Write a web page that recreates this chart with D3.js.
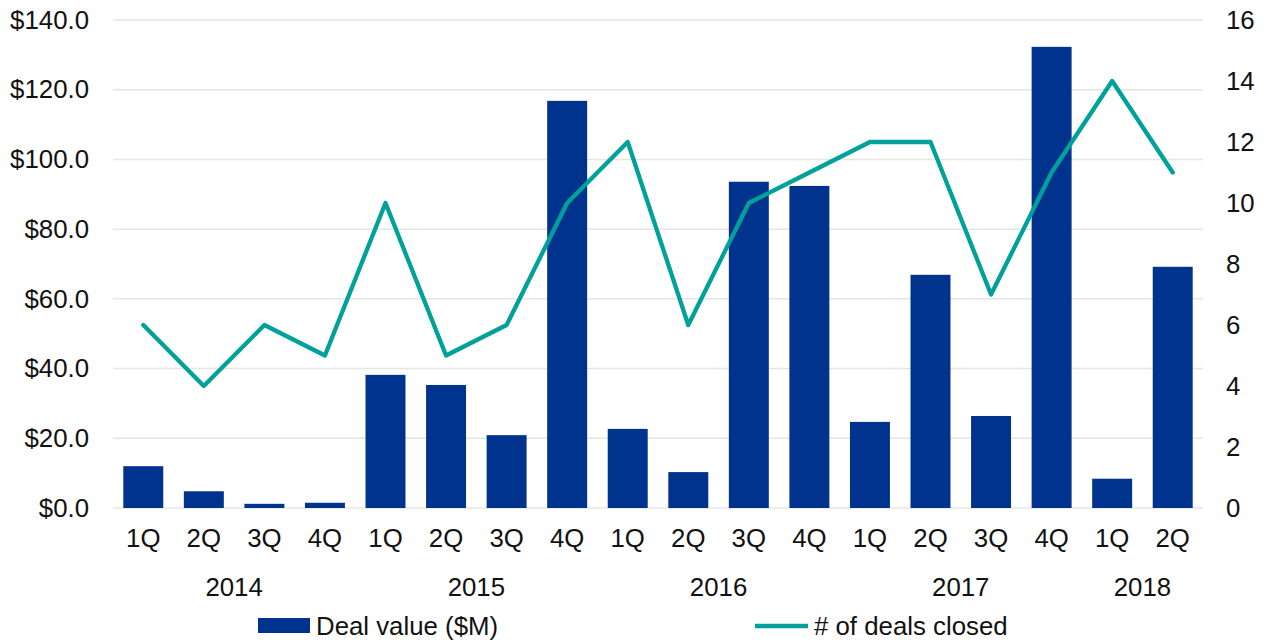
<!DOCTYPE html>
<html>
<head>
<meta charset="utf-8">
<script src="https://cdn.jsdelivr.net/npm/d3@7/dist/d3.min.js"></script>
<style>
  html, body { margin: 0; padding: 0; background: #fff; }
  svg { display: block; font-family: "Liberation Sans", Arial, sans-serif; }
</style>
</head>
<body>
<svg id="chart" width="1272" height="641"></svg>
<script>
// Quarterly deal activity
const years = ["2014", "2015", "2016", "2017", "2018"];
const quarters = ["1Q", "2Q", "3Q", "4Q", "1Q", "2Q", "3Q", "4Q", "1Q", "2Q", "3Q", "4Q",
                  "1Q", "2Q", "3Q", "4Q", "1Q", "2Q"];
const quarterYears = ["2014", "2014", "2014", "2014", "2015", "2015", "2015", "2015",
                      "2016", "2016", "2016", "2016", "2017", "2017", "2017", "2017",
                      "2018", "2018"];
const dealValue = [12.0, 4.8, 1.2, 1.5, 38.2, 35.3, 20.9, 116.8, 22.7, 10.3, 93.6, 92.4,
                   24.7, 66.9, 26.4, 132.3, 8.4, 69.2];
const dealsClosed = [6, 4, 6, 5, 10, 5, 6, 10, 12, 6, 10, 11, 12, 12, 7, 11, 14, 11];
const leftTicks = [0, 20, 40, 60, 80, 100, 120, 140];
const rightTicks = [0, 2, 4, 6, 8, 10, 12, 14, 16];

const svg = d3.select("#chart");
const plot = { left: 113, right: 1203, top: 20, bottom: 508 };
const fontSize = 25.8;

const keys = d3.range(quarters.length);
const x = d3.scaleBand().domain(keys).range([plot.left, plot.right]).paddingInner(0.34).paddingOuter(0.17);
const yL = d3.scaleLinear().domain([0, 140]).range([plot.bottom, plot.top]);
const yR = d3.scaleLinear().domain([0, 16]).range([plot.bottom, plot.top]);

// gridlines
svg.append("g")
  .selectAll("line")
  .data(leftTicks)
  .join("line")
  .attr("x1", plot.left).attr("x2", plot.right)
  .attr("y1", d => yL(d)).attr("y2", d => yL(d))
  .attr("stroke", "#e6e6e0").attr("stroke-width", 1.5);

// left axis
const leftAxis = d3.axisLeft(yL).tickValues(leftTicks).tickSize(0).tickPadding(24)
  .tickFormat(d => "$" + d3.format(".1f")(d));
svg.append("g").attr("transform", `translate(${plot.left},0)`).call(leftAxis)
  .call(g => g.select(".domain").remove())
  .selectAll("text").attr("font-size", fontSize).attr("fill", "#111")
  .attr("font-family", "Liberation Sans, Arial, sans-serif");

// right axis
const rightAxis = d3.axisRight(yR).tickValues(rightTicks).tickSize(0).tickPadding(23);
svg.append("g").attr("transform", `translate(${plot.right},0)`).call(rightAxis)
  .call(g => g.select(".domain").remove())
  .selectAll("text").attr("font-size", fontSize).attr("fill", "#111")
  .attr("font-family", "Liberation Sans, Arial, sans-serif");

// bars
svg.append("g")
  .selectAll("rect")
  .data(dealValue)
  .join("rect")
  .attr("x", (d, i) => x(i))
  .attr("width", x.bandwidth())
  .attr("y", d => yL(d))
  .attr("height", d => yL(0) - yL(d))
  .attr("fill", "#00338d");

// line
const line = d3.line()
  .x((d, i) => x(i) + x.bandwidth() / 2)
  .y(d => yR(d));
svg.append("path")
  .datum(dealsClosed)
  .attr("d", line)
  .attr("fill", "none")
  .attr("stroke", "#00a19b")
  .attr("stroke-width", 4.3)
  .attr("stroke-linejoin", "round")
  .attr("stroke-linecap", "round");

// quarter labels
svg.append("g")
  .selectAll("text")
  .data(quarters)
  .join("text")
  .attr("x", (d, i) => x(i) + x.bandwidth() / 2)
  .attr("y", 547)
  .attr("text-anchor", "middle")
  .attr("font-size", fontSize)
  .attr("fill", "#111")
  .text(d => d);

// year labels centred under their quarters
svg.append("g")
  .selectAll("text")
  .data(years)
  .join("text")
  .attr("x", yr => {
    const idx = keys.filter(i => quarterYears[i] === yr);
    return d3.mean(idx, i => x(i) + x.bandwidth() / 2);
  })
  .attr("y", 596)
  .attr("text-anchor", "middle")
  .attr("font-size", fontSize)
  .attr("fill", "#111")
  .text(d => d);

// legend
const legend = svg.append("g");
legend.append("rect").attr("x", 258).attr("y", 618).attr("width", 52).attr("height", 15).attr("fill", "#00338d");
legend.append("text").attr("x", 316).attr("y", 635).attr("font-size", fontSize).attr("fill", "#111").text("Deal value ($M)");
legend.append("line").attr("x1", 755).attr("x2", 808).attr("y1", 626).attr("y2", 626)
  .attr("stroke", "#00a19b").attr("stroke-width", 4.3);
legend.append("text").attr("x", 814).attr("y", 635).attr("font-size", fontSize).attr("fill", "#111").text("# of deals closed");
</script>
</body>
</html>
